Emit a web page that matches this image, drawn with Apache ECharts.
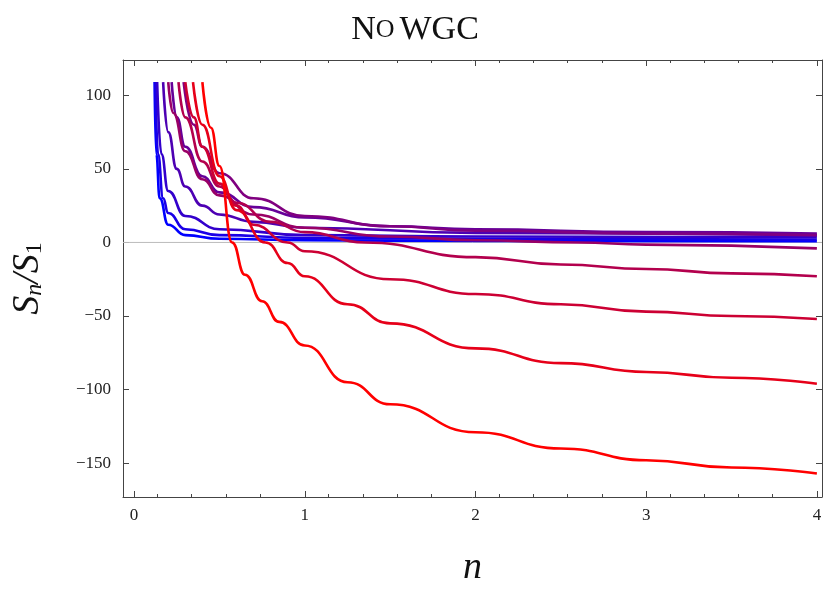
<!DOCTYPE html>
<html><head><meta charset="utf-8">
<script src="https://cdn.jsdelivr.net/npm/echarts@6/dist/echarts.min.js"></script>
<style>html,body{margin:0;padding:0;background:#fff}#c{width:830px;height:599px}</style>
</head><body><div id="c"></div>
<script>
const xTicks=[0,1,2,3,4];
const yTicks=[-150,-100,-50,0,50,100];
const c0=[[0.12,109],[0.13,60],[0.15,30],[0.2,12],[0.3,5],[0.5,2.5],[1,1.5],[2,1],[4,0.8]];
const c1=[[0.125,109],[0.14,60],[0.17,30],[0.2,20],[0.3,9],[0.5,5],[1,3],[2,2.5],[4,2]];
const c2=[[0.135,109],[0.16,60],[0.2,35],[0.3,18],[0.5,9],[1,5],[2,4],[4,3.5]];
const c3=[[0.17,109],[0.2,75],[0.25,50],[0.3,38],[0.4,25],[0.5,19],[0.7,14],[1,10],[2,6.5],[4,5]];
const c4=[[0.22,109],[0.25,85],[0.3,65],[0.4,45],[0.5,34],[0.7,24],[1,17],[1.5,11],[2,9],[3,7],[4,6]];
const c5=[[0.29,109],[0.35,80],[0.4,65],[0.5,47],[0.7,30],[1,18],[1.5,11],[2,8],[3,6],[4,5]];
const c6=[[0.2,109],[0.23,88],[0.3,62],[0.4,43],[0.5,32],[0.7,19],[1,10],[1.5,4],[2,1.5],[2.6,0],[3,-1.5],[4,-4]];
const c7=[[0.26,109],[0.3,85],[0.4,55],[0.5,38],[0.6,27],[0.8,14],[1,7],[1.35,0],[2,-10],[2.5,-15],[3,-18],[3.5,-21],[4,-23]];
const c8=[[0.3,109],[0.35,85],[0.4,65],[0.5,40],[0.6,25],[0.7,12],[0.9,0],[1,-6],[1.5,-25],[2,-35],[2.5,-42],[3,-47],[3.5,-50],[4,-52]];
const c9=[[0.345,109],[0.4,80],[0.5,45],[0.6,22],[0.77,0],[0.9,-14],[1,-23],[1.25,-42],[1.5,-55],[2,-72],[2.5,-82],[3,-88],[3.5,-92],[4,-96]];
const c10=[[0.4,109],[0.45,78],[0.5,52],[0.574,0],[0.65,-22],[0.75,-40],[0.85,-54],[1,-70],[1.25,-95],[1.5,-110],[2,-129],[2.5,-140],[3,-148],[3.5,-153],[4,-157]];
const curves=[c0,c1,c2,c3,c4,c5,c6,c7,c8,c9,c10];
const ch=echarts.init(document.getElementById('c'));
const F='"Liberation Serif","DejaVu Serif",serif';
const line={show:true,onZero:false,lineStyle:{color:'#444'}};
const lab={fontFamily:F,fontSize:17,color:'#222',formatter:v=>String(v).replace('-','\u2212')};
const series=curves.map((d,i)=>{const t=i/(curves.length-1);const r=Math.round(255*t),b=Math.round(255*(1-t));
return {type:'line',data:d,smooth:true,smoothMonotone:'x',showSymbol:false,clip:true,lineStyle:{width:2.6,color:`rgb(${r},0,${b})`},z:3+i};});
series.push({type:'line',data:[[-0.065,0],[4.03,0]],showSymbol:false,silent:true,lineStyle:{width:1,color:'#bbb'},z:1});
const xt={inside:true,length:6,customValues:xTicks,lineStyle:{color:'#444'}};
const yt={inside:true,length:6,customValues:yTicks,lineStyle:{color:'#444'}};
const mt={show:true,splitNumber:5,length:3,lineStyle:{color:'#444'}};
ch.setOption({
 animation:false,
 title:{text:'{a|N}{b|O} {a|WGC}',left:'center',top:8,textStyle:{fontWeight:'normal',rich:{a:{fontFamily:F,fontSize:34,color:'#111'},b:{fontFamily:F,fontSize:26,color:'#111'}}}},
 grid:{left:123,right:8,top:60,bottom:102},
 xAxis:[{type:'value',min:-0.065,max:4.03,interval:1,axisLine:line,axisTick:xt,minorTick:mt,splitLine:{show:false},axisLabel:Object.assign({},lab,{customValues:xTicks,margin:10}),name:'n',nameLocation:'middle',nameGap:52,nameTextStyle:{fontFamily:F,fontStyle:'italic',fontSize:38,color:'#111'}},
   {type:'value',position:'top',min:-0.065,max:4.03,interval:1,axisLine:line,axisTick:xt,minorTick:mt,splitLine:{show:false},axisLabel:{show:false}}],
 yAxis:[{type:'value',min:-173,max:124,axisLine:line,axisTick:yt,splitLine:{show:false},axisLabel:Object.assign({},lab,{customValues:yTicks,margin:12}),name:'{i|S}{si|n}{i|/S}{s|1}',nameLocation:'middle',nameGap:76,nameTextStyle:{rich:{i:{fontFamily:F,fontStyle:'italic',fontSize:38,color:'#111'},si:{fontFamily:F,fontStyle:'italic',fontSize:24,color:'#111',padding:[14,0,0,0]},s:{fontFamily:F,fontSize:24,color:'#111',padding:[14,0,0,0]}}}},
   {type:'value',position:'right',min:-173,max:124,axisLine:line,axisTick:yt,splitLine:{show:false},axisLabel:{show:false}}],
 series:series
});
</script></body></html>
